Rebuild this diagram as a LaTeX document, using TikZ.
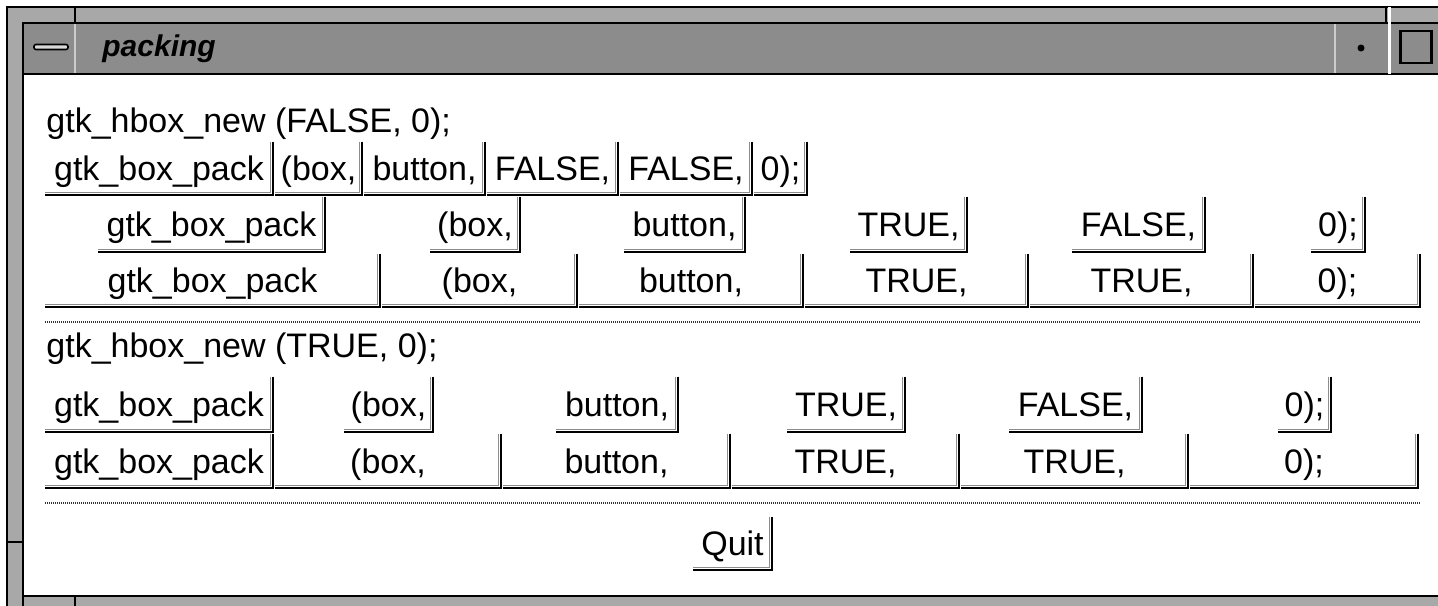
\documentclass[tikz,border=0pt]{standalone}
\usepackage{fontspec}
\setmainfont{Liberation Sans}
\definecolor{titlecol}{gray}{0.55}
\definecolor{stripcol}{gray}{0.66}
\newcommand\gbtn[6]{%
  \pgfmathsetmacro\gbw{(#4-#2)*0.5}%
  \pgfmathsetmacro\gbh{(#5-#3)*0.5}%
  \node[btnbox, minimum width=\gbw pt, minimum height=\gbh pt] (#1) at ({(#2+#4)/2},{(#3+#5)/2}) {#6};
  \draw[reliefin] ([xshift=-1.3pt]#1.north east) -- ([xshift=-1.3pt,yshift=1.3pt]#1.south east) -- ([yshift=1.3pt]#1.south west);
  \draw[reliefout] (#1.north east) -- (#1.south east) -- (#1.south west);
}
\begin{document}
\begin{tikzpicture}[x=0.5pt,y=-0.5pt,
  btnbox/.style={inner sep=0pt, font=\fontsize{17}{20}\selectfont, text height=15.5pt, text depth=3.5pt},
  reliefout/.style={line width=1pt, draw=black},
  reliefin/.style={line width=0.6pt, draw=black!45},
  sepline/.style={line width=0.7pt, dash pattern=on 0.5pt off 0.5pt, draw=black!80},
  hboxlabel/.style={anchor=base west, inner sep=0pt, font=\fontsize{17}{20}\selectfont},
  frameline/.style={line width=1pt, draw=black},
  ]
\useasboundingbox (0,0) rectangle (1438,605);
\begin{scope}
\clip (0,0) rectangle (1438,605);
\fill[white] (0,0) rectangle (1438,605);
% window frame strips
\fill[stripcol] (7,7) rectangle (1445,612);
% title bar
\fill[titlecol] (24,24) rectangle (1445,73);
% content area
\fill[white] (24,75) rectangle (1445,596);
% frame lines
\draw[frameline] (7,612) -- (7,7) -- (1445,7);
\draw[frameline] (23,612) -- (23,23) -- (1445,23);
\draw[frameline] (24,74) -- (1445,74);
\draw[frameline] (23,596) -- (1445,596);
% frame handle ticks
\draw[frameline] (75,7) -- (75,23);
\draw[frameline] (7,542) -- (23,542);
\draw[frameline] (75,596) -- (75,612);
\draw[line width=1.5pt, white] (1389,7) -- (1389,74);
\draw[frameline] (1386,7) -- (1386,23);
% title bar cells
\draw[line width=1pt, white!80!black] (75,24) -- (75,73);
\draw[line width=1pt, white!80!black] (1335,24) -- (1335,73);
\node[draw=black, fill=white!85!black, line width=0.8pt, rounded corners=1pt, minimum width=17pt, minimum height=2.5pt, inner sep=0pt] (menubar) at (51,47) {};
\node[anchor=base west, inner sep=0pt, font=\fontsize{15}{18}\selectfont\bfseries\itshape] (title) at (102,56) {packing};
\node[circle, fill=black, inner sep=0pt, minimum size=3.5pt] (mindot) at (1361,48) {};
\node[draw=black, line width=1.2pt, inner sep=0pt, minimum width=15.5pt, minimum height=16pt] (maxsq) at (1416,47) {};
\end{scope}

% first section
\node[hboxlabel] (lab1) at (46,132) {gtk\_hbox\_new (FALSE, 0);};
\gbtn{a1}{45}{142}{273}{195}{gtk\_box\_pack}
\gbtn{a2}{275}{142}{362}{195}{(box,}
\gbtn{a3}{364}{142}{485}{195}{button,}
\gbtn{a4}{487}{142}{618}{195}{FALSE,}
\gbtn{a5}{620}{142}{752}{195}{FALSE,}
\gbtn{a6}{754}{142}{807}{195}{0);}

\gbtn{b1}{98}{197}{325}{252}{gtk\_box\_pack}
\gbtn{b2}{430}{197}{520}{252}{(box,}
\gbtn{b3}{624}{197}{745}{252}{button,}
\gbtn{b4}{850}{197}{967}{252}{TRUE,}
\gbtn{b5}{1072}{197}{1205}{252}{FALSE,}
\gbtn{b6}{1311}{197}{1365}{252}{0);}

\gbtn{c1}{45}{254}{380}{307}{gtk\_box\_pack}
\gbtn{c2}{382}{254}{577}{307}{(box,}
\gbtn{c3}{579}{254}{803}{307}{button,}
\gbtn{c4}{805}{254}{1028}{307}{TRUE,}
\gbtn{c5}{1030}{254}{1253}{307}{TRUE,}
\gbtn{c6}{1255}{254}{1420}{307}{0);}

\coordinate (s1a) at (45,322);
\coordinate (s1b) at (1420,322);
\draw[sepline] (s1a) -- (s1b);

% second section
\node[hboxlabel] (lab2) at (46,357) {gtk\_hbox\_new (TRUE, 0);};
\gbtn{d1}{45}{377}{273}{432}{gtk\_box\_pack}
\gbtn{d2}{344}{377}{433}{432}{(box,}
\gbtn{d3}{556}{377}{678}{432}{button,}
\gbtn{d4}{787}{377}{905}{432}{TRUE,}
\gbtn{d5}{1009}{377}{1142}{432}{FALSE,}
\gbtn{d6}{1278}{377}{1331}{432}{0);}

\gbtn{e1}{45}{434}{273}{488}{gtk\_box\_pack}
\gbtn{e2}{275}{434}{501}{488}{(box,}
\gbtn{e3}{503}{434}{730}{488}{button,}
\gbtn{e4}{732}{434}{959}{488}{TRUE,}
\gbtn{e5}{961}{434}{1188}{488}{TRUE,}
\gbtn{e6}{1190}{434}{1418}{488}{0);}

\coordinate (s2a) at (45,503);
\coordinate (s2b) at (1420,503);
\draw[sepline] (s2a) -- (s2b);

\gbtn{quit}{693}{517}{772}{570}{Quit}
\end{tikzpicture}
\end{document}
